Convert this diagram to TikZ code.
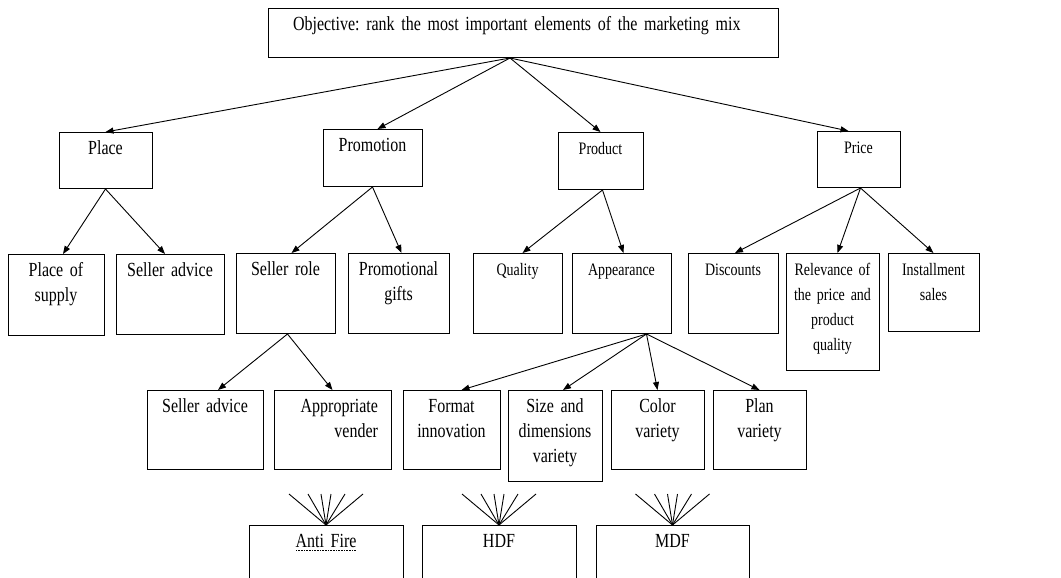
\documentclass[tikz,border=0pt]{standalone}
\usepackage{fontspec}
\setmainfont{Liberation Serif}[FakeStretch=0.8]
\usetikzlibrary{arrows.meta}
\frenchspacing

% dotted underline, as the spell mark under Anti Fire
\newcommand\dotmark[1]{\setbox0\hbox{#1}\leavevmode
  \rlap{\raisebox{-3pt}{\hbox to \wd0{\leaders\hbox to 1.6pt{\hss\rule{0.8pt}{0.8pt}\hss}\hfill}}}\box0}
\newcommand\boxfont{\fontsize{20}{25}\selectfont\spaceskip=4pt plus 1pt minus 1pt\relax}
\newcommand\smallboxfont{\fontsize{17.5}{25}\selectfont\spaceskip=3.5pt plus 1pt minus 1pt\relax}

\tikzset{
  box/.style={draw, line width=1pt, anchor=north, align=center,
    inner xsep=3pt, inner ysep=0pt, text height=22pt, font=\boxfont},
  small/.style={font=\smallboxfont},
  arrow/.style={-{Triangle[length=8pt,width=6pt]}, line width=0.9pt},
  fan/.style={line width=0.9pt},
}

\begin{document}
\begin{tikzpicture}[x=1pt,y=-1pt]
\useasboundingbox (0,0) rectangle (1061,578);

%Objective
\node[box, align=left, inner xsep=25pt, text width=460pt, text depth=27pt
] (obj) at (523,8) {Objective: rank the most important elements of the marketing mix};

%Level 1
\node[box, text width=87pt, text depth=34pt] (place) at (105.5,132) {Place};
\node[box, text width=93pt, text depth=35pt] (promo) at (372.5,129) {Promotion};
\node[box, small, text width=79pt, text depth=35pt] (product) at (600.5,132) {Product};
\node[box, small, text width=77pt, text depth=34pt] (price) at (858.5,131) {Price};

%Level 2
\node[box, text width=90pt, text depth=59pt] (supply) at (56,254) {Place of\\supply};
\node[box, text width=102pt, text depth=58pt] (advicea) at (170,254) {Seller advice};
\node[box, text width=93pt, text depth=58pt] (role) at (285.5,253) {Seller role};
\node[box, text width=95pt, text depth=58pt] (gifts) at (398.5,253) {Promotional\\gifts};
\node[box, small, text width=83pt, text depth=58pt] (quality) at (517.5,253) {Quality};
\node[box, small, text width=93pt, text depth=58pt] (appear) at (621.5,253) {Appearance};
\node[box, small, text width=84pt, text depth=58pt] (disc) at (733,253) {Discounts};
\node[box, small, text width=87pt, text depth=95pt
] (relev) at (832.5,253) {Relevance of\\the price and\\product\\quality};
\node[box, small, text width=85pt, text depth=56pt] (install) at (933.5,253) {Installment\\sales};

%Level 3
\node[box, text width=110pt, text depth=57pt] (adviceb) at (205,390) {Seller advice};
\node[box, align=right, inner xsep=13pt, text width=91pt, text depth=57pt
] (vender) at (332.5,390) {Appropriate\\vender};
\node[box, text width=91pt, text depth=57pt] (format) at (451.5,390) {Format\\innovation};
\node[box, text width=88pt, text depth=69pt] (size) at (555,390) {Size and\\dimensions\\variety};
\node[box, text width=87pt, text depth=57pt] (color) at (657.5,390) {Color\\variety};
\node[box, text width=87pt, text depth=57pt] (plan) at (759.5,390) {Plan\\variety};

%Level 4
\node[box, text width=148pt, text depth=58pt] (anti) at (326,525) {\dotmark{Anti Fire}};
\node[box, text width=148pt, text depth=58pt] (hdf) at (499,525) {HDF};
\node[box, text width=147pt, text depth=58pt] (mdf) at (672.5,525) {MDF};

%Arrows from objective
\draw[arrow] ([xshift=-13pt]obj.south) -- (place.north);
\draw[arrow] ([xshift=-13pt]obj.south) -- ([xshift=5pt]promo.north);
\draw[arrow] ([xshift=-13pt]obj.south) -- (product.north);
\draw[arrow] ([xshift=-13pt]obj.south) -- ([xshift=-10pt]price.north);

%Arrows to level 2
\draw[arrow] (place.south) -- ([xshift=7pt]supply.north);
\draw[arrow] (place.south) -- ([xshift=-5pt]advicea.north);
\draw[arrow] (promo.south) -- ([xshift=6pt]role.north);
\draw[arrow] (promo.south) -- ([xshift=3pt]gifts.north);
\draw[arrow] ([xshift=2pt]product.south) -- ([xshift=5pt]quality.north);
\draw[arrow] ([xshift=2pt]product.south) -- ([xshift=2pt]appear.north);
\draw[arrow] ([xshift=2pt]price.south) -- ([xshift=2pt]disc.north);
\draw[arrow] ([xshift=2pt]price.south) -- ([xshift=5pt]relev.north);
\draw[arrow] ([xshift=2pt]price.south) -- (install.north);

%Arrows to level 3
\draw[arrow] ([xshift=2pt]role.south) -- ([xshift=13pt]adviceb.north);
\draw[arrow] ([xshift=2pt]role.south) -- (vender.north);
\draw[arrow] ([xshift=25pt]appear.south) -- ([xshift=10pt]format.north);
\draw[arrow] ([xshift=25pt]appear.south) -- ([xshift=8pt]size.north);
\draw[arrow] ([xshift=25pt]appear.south) -- (color.north);
\draw[arrow] ([xshift=25pt]appear.south) -- (plan.north);

%Fans above level 4
\foreach \b in {anti,hdf,mdf}
  \foreach \dx in {-37,-18,-5,5,19,37}
    \draw[fan] (\b.north) -- ([xshift=\dx pt,yshift=31pt]\b.north);

\end{tikzpicture}
\end{document}
